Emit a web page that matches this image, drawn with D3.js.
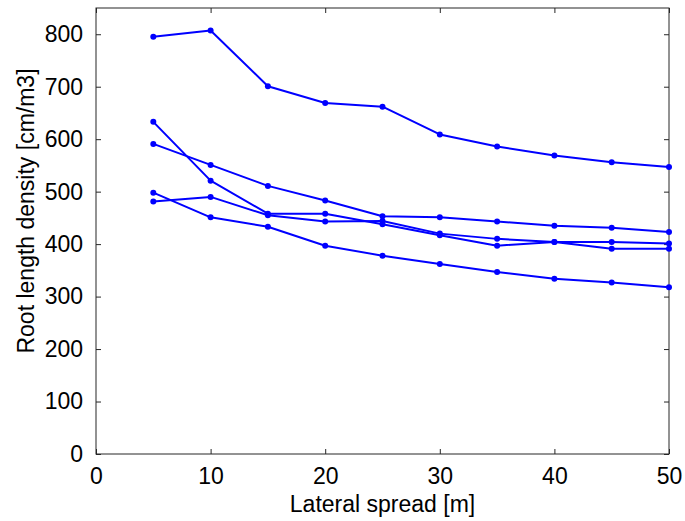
<!DOCTYPE html>
<html>
<head>
<meta charset="utf-8">
<script src="https://cdn.jsdelivr.net/npm/d3@7"></script>
<style>
  html, body { margin: 0; padding: 0; background: #fff; }
  svg { display: block; font-family: "Liberation Sans", Arial, sans-serif; }
</style>
</head>
<body>
<svg id="chart" width="685" height="521"></svg>
<script>
// Lateral spread positions [m]
const spread = [5, 10, 15, 20, 25, 30, 35, 40, 45, 50];

// Root length density profiles [cm/m3]
const profile1 = [795, 807, 701, 669, 662, 609, 586, 569, 556, 547];
const profile2 = [633, 521, 458, 458, 438, 417, 397, 404, 391, 391];
const profile3 = [591, 551, 511, 483, 453, 451, 443, 435, 431, 423];
const profile4 = [481, 490, 455, 443, 444, 420, 410, 404, 404, 401];
const profile5 = [498, 451, 433, 397, 378, 362, 347, 334, 327, 318];

const xTicks = [0, 10, 20, 30, 40, 50];
const yTicks = [0, 100, 200, 300, 400, 500, 600, 700, 800];

const profiles = [profile1, profile2, profile3, profile4, profile5];

const svg = d3.select("#chart");
const plotLeft = 96, plotRight = 669, plotTop = 8, plotBottom = 454;

const x = d3.scaleLinear().domain([0, 50]).range([plotLeft, plotRight]);
const y = d3.scaleLinear().domain([0, 850]).range([plotBottom, plotTop]);

const axisColor = "#262626";
const fontSize = 23;

// Frame
svg.append("rect")
  .attr("x", plotLeft).attr("y", plotTop)
  .attr("width", plotRight - plotLeft).attr("height", plotBottom - plotTop)
  .attr("fill", "none").attr("stroke", axisColor).attr("stroke-width", 1);

// Bottom axis (inward ticks) and labels
const xAxis = svg.append("g").attr("transform", `translate(0,${plotBottom})`)
  .call(d3.axisBottom(x).tickValues(xTicks).tickSize(-5).tickPadding(14).tickFormat(d3.format("d")));
// Top ticks
svg.append("g").attr("transform", `translate(0,${plotTop})`)
  .call(d3.axisTop(x).tickValues(xTicks).tickSize(-5).tickFormat(""));
// Left axis
const yAxis = svg.append("g").attr("transform", `translate(${plotLeft},0)`)
  .call(d3.axisLeft(y).tickValues(yTicks).tickSize(-5).tickPadding(13).tickFormat(d3.format("d")));
// Right ticks
svg.append("g").attr("transform", `translate(${plotRight},0)`)
  .call(d3.axisRight(y).tickValues(yTicks).tickSize(-5).tickFormat(""));

svg.selectAll(".domain").remove();
svg.selectAll(".tick line").attr("stroke", axisColor).attr("stroke-width", 1);
svg.selectAll(".tick text")
  .attr("fill", "#000")
  .style("font-size", fontSize + "px")
  .style("font-family", "'Liberation Sans', Arial, sans-serif");
xAxis.selectAll(".tick text").attr("dy", "0.71em");

// Series lines and markers
const line = d3.line().x((d, i) => x(spread[i])).y(d => y(d));
const blue = "#0000ff";

profiles.forEach(p => {
  svg.append("path")
    .datum(p)
    .attr("d", line)
    .attr("fill", "none")
    .attr("stroke", blue)
    .attr("stroke-width", 2)
    .attr("stroke-linejoin", "round");
  svg.append("g").selectAll("circle")
    .data(p)
    .join("circle")
    .attr("cx", (d, i) => x(spread[i]))
    .attr("cy", d => y(d))
    .attr("r", 3)
    .attr("fill", blue);
});

// Axis titles
svg.append("text")
  .attr("x", (plotLeft + plotRight) / 2)
  .attr("y", 512)
  .attr("text-anchor", "middle")
  .style("font-size", fontSize + "px")
  .attr("fill", "#000")
  .text("Lateral spread [m]");

svg.append("text")
  .attr("transform", `translate(34,211) rotate(-90)`)
  .attr("text-anchor", "middle")
  .style("font-size", fontSize + "px")
  .attr("fill", "#000")
  .text("Root length density [cm/m3]");
</script>
</body>
</html>
